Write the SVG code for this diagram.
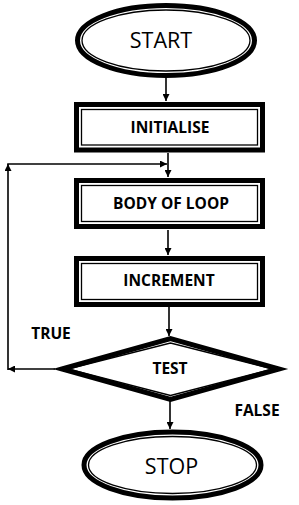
<svg xmlns="http://www.w3.org/2000/svg" width="299" height="505" viewBox="0 0 299 505">
<style>
.thick{fill:#fff;stroke:#000;stroke-width:5}
.thin{fill:none;stroke:#000;stroke-width:1.3}
.lbl{font-family:"Open Sans","Liberation Sans",sans-serif;font-weight:bold;font-size:15.5px;fill:#000;text-anchor:middle}
.big{font-family:"Open Sans","Liberation Sans",sans-serif;font-size:21.5px;fill:#000;text-anchor:middle}
.ln{fill:none;stroke:#000;stroke-width:1.6}
</style>
<defs>
<marker id="ah" viewBox="0 0 10 10" refX="10" refY="5" markerWidth="7" markerHeight="7" markerUnits="userSpaceOnUse" orient="auto">
<path d="M0,0 L10,5 L0,10 Z" fill="#000"/>
</marker>
</defs>
<g id="connectors">
<line class="ln" x1="166" y1="77" x2="166" y2="101" marker-end="url(#ah)"/>
<line class="ln" x1="168" y1="153" x2="168" y2="177" marker-end="url(#ah)"/>
<line class="ln" x1="168" y1="230" x2="168" y2="255" marker-end="url(#ah)"/>
<line class="ln" x1="169" y1="307" x2="169" y2="336" marker-end="url(#ah)"/>
<line class="ln" x1="170" y1="401" x2="170" y2="429" marker-end="url(#ah)"/>
<line class="ln" x1="55" y1="369" x2="8" y2="369" marker-end="url(#ah)"/>
<line class="ln" x1="8" y1="370" x2="8" y2="164" marker-end="url(#ah)"/>
<line class="ln" x1="7.2" y1="164" x2="167" y2="164" marker-end="url(#ah)"/>
</g>
<g id="start">
<ellipse class="thick" cx="166" cy="40.5" rx="88.5" ry="35"/>
<ellipse class="thin" cx="166" cy="40.5" rx="84" ry="30.5"/>
<text class="big" x="161" y="48">START</text>
</g>
<g id="initialise">
<rect class="thick" x="76.5" y="104.5" width="186" height="45.5"/>
<rect class="thin" x="81.5" y="109.5" width="176" height="35.5"/>
<text class="lbl" x="170" y="133">INITIALISE</text>
</g>
<g id="body">
<rect class="thick" x="76.5" y="180.5" width="186" height="46"/>
<rect class="thin" x="81.5" y="185.5" width="176" height="36"/>
<text class="lbl" x="171" y="209">BODY OF LOOP</text>
</g>
<g id="increment">
<rect class="thick" x="76.5" y="258.5" width="186" height="46"/>
<rect class="thin" x="81.5" y="263.5" width="176" height="36"/>
<text class="lbl" x="169" y="286">INCREMENT</text>
</g>
<g id="test">
<polygon class="thick" points="62,369 170.5,338.5 279,369 170.5,399.5"/>
<polygon class="thin" points="68,369 170.5,343 273,369 170.5,395.5"/>
<text class="lbl" x="170" y="374">TEST</text>
</g>
<g id="stop">
<ellipse class="thick" cx="172.5" cy="465" rx="88.5" ry="33"/>
<ellipse class="thin" cx="172.5" cy="465" rx="84" ry="28.5"/>
<text class="big" x="171.5" y="474">STOP</text>
</g>
<text class="lbl" x="51" y="339">TRUE</text>
<text class="lbl" x="257" y="416">FALSE</text>
</svg>
